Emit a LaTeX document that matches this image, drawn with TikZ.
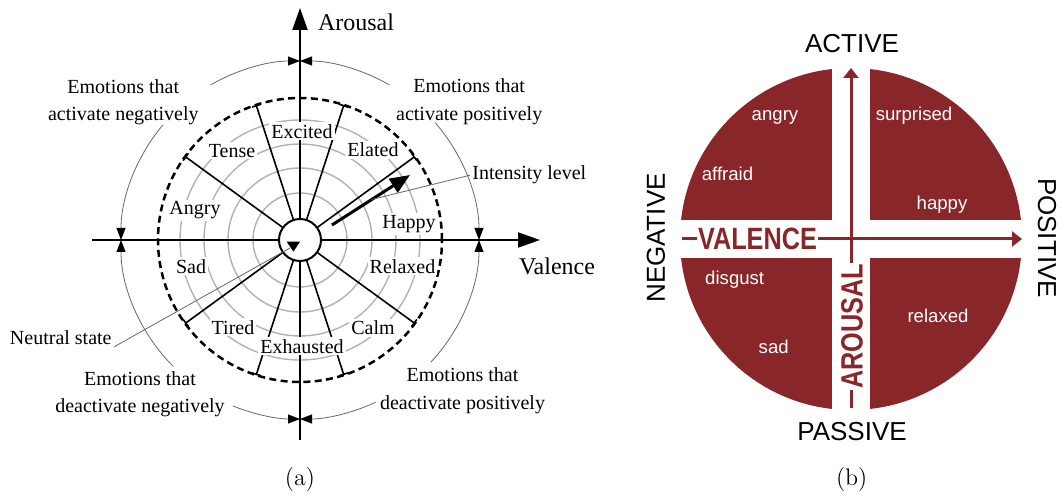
\documentclass[tikz,border=0pt]{standalone}
\usepackage{fontspec}
\newfontfamily\timesfont{Liberation Serif}
\newfontfamily\arialfont{Liberation Sans}
\newfontfamily\narrowfont[FakeStretch=0.82]{Liberation Sans}
\usetikzlibrary{arrows.meta,calc}
\definecolor{wine}{RGB}{136,38,41}
\definecolor{ringgray}{RGB}{178,178,178}

\begin{document}
\begin{tikzpicture}[x=0.5pt,y=0.5pt]
\tikzstyle{axis} = [draw, line width=1pt, -{Triangle[length=11pt,width=7.5pt]}]
\tikzstyle{ring} = [draw=ringgray, line width=0.7pt]
\tikzstyle{spoke} = [draw, line width=0.8pt, -{Bar[width=4.5pt]}]
\tikzstyle{mood} = [font=\timesfont\fontsize{10}{12}\selectfont, fill=white, inner sep=1pt, anchor=base]
\tikzstyle{group} = [font=\timesfont\fontsize{10}{13.7}\selectfont, align=center, inner sep=1pt]
\tikzstyle{curve} = [draw=black!60, line width=0.4pt, -{Triangle[length=6pt,width=4.5pt,color=black,fill=black]}]
\tikzstyle{leader} = [draw=black!60, line width=0.4pt]
\tikzstyle{waxis} = [draw=wine, line width=1.5pt, -{Triangle[length=5pt,width=7.5pt]}]
\tikzstyle{pole} = [font=\arialfont\fontsize{13}{15}\selectfont]
\tikzstyle{feel} = [font=\arialfont\fontsize{9.3}{11}\selectfont, text=white, anchor=base]
\tikzstyle{dim} = [font=\narrowfont\bfseries\fontsize{15.4}{17}\selectfont, text=wine, fill=white, inner xsep=0.6pt, inner ysep=0pt]

\useasboundingbox (0,0) rectangle (1062,498);

% (a) circumplex
\coordinate (O) at (300,258);
\coordinate (vb) at (300,58);
\coordinate (vt) at (300,490);
\coordinate (hl) at (92,258);
\coordinate (hr) at (540,258);

\draw[ring] (O) circle[radius=47];
\draw[ring] (O) circle[radius=72];
\draw[ring] (O) circle[radius=96];
\draw[ring] (O) circle[radius=120];

\draw[axis] (vb) -- (vt);
\draw[axis] (hl) -- (hr);

\node[circle, draw, line width=1pt, fill=white, minimum size=21pt, inner sep=0pt, outer sep=0pt] (ns) at (O) {};

\draw[spoke] (ns.36) -- ++(36:121);
\draw[spoke] (ns.72) -- ++(72:121);
\draw[spoke] (ns.108) -- ++(108:121);
\draw[spoke] (ns.144) -- ++(144:121);
\draw[spoke] (ns.-36) -- ++(-36:121);
\draw[spoke] (ns.-72) -- ++(-72:121);
\draw[spoke] (ns.-108) -- ++(-108:121);
\draw[spoke] (ns.-144) -- ++(-144:121);

\draw[line width=1.25pt, dash pattern=on 3.5pt off 2.2pt] (O) circle[radius=142];

\node[mood] (excited) at (302,359.7) {Excited};
\node[mood] (tense) at (232,340.7) {Tense};
\node[mood] (elated) at (373,341.3) {Elated};
\node[mood] (angry) at (195,283) {Angry};
\node[mood] (happy) at (409,269.7) {Happy};
\node[mood] (sad) at (191,224.7) {Sad};
\node[mood] (relaxed) at (402.5,224.7) {Relaxed};
\node[mood] (tired) at (233,163.7) {Tired};
\node[mood] (calm) at (373,163) {Calm};
\node[mood] (exhausted) at (302,144.7) {Exhausted};

\node[anchor=base, font=\timesfont\fontsize{12}{14}\selectfont] (arousal) at (356,467.3) {Arousal};
\node[anchor=base, font=\timesfont\fontsize{12}{14}\selectfont] (valence) at (557,223) {Valence};

\node[group] (actneg) at (123.3,395.6) {Emotions that\\activate negatively};
\node[group] (actpos) at (469.2,396.3) {Emotions that\\activate positively};
\node[group] (deneg) at (140,104) {Emotions that\\deactivate negatively};
\node[group] (depos) at (462.5,107.3) {Emotions that\\deactivate positively};

\draw[curve] (O) ++(120:179) arc[start angle=120, end angle=90, radius=179];
\draw[curve] (O) ++(140:179) arc[start angle=140, end angle=180, radius=179];
\draw[curve] (O) ++(60:179) arc[start angle=60, end angle=90, radius=179];
\draw[curve] (O) ++(41:179) arc[start angle=41, end angle=0, radius=179];
\draw[curve] (O) ++(225:179) arc[start angle=225, end angle=180, radius=179];
\draw[curve] (O) ++(248:179) arc[start angle=248, end angle=270, radius=179];
\draw[curve] (O) ++(-43:179) arc[start angle=-43, end angle=0, radius=179];
\draw[curve] (O) ++(-65:179) arc[start angle=-65, end angle=-90, radius=179];

% intensity arrow
\coordinate (is) at ($(O)+(32,15)$);
\coordinate (ie) at ($(O)+(110,65)$);
\draw[line width=1.5pt, -{Triangle[length=10pt,width=8pt]}] (is) -- (ie);
\node[anchor=base west, inner sep=1pt, font=\timesfont\fontsize{10}{12}\selectfont] (intens) at (470,318) {Intensity level};
\draw[leader] (intens.west) -- ($(is)!0.51!(ie)$);

% neutral state
\coordinate (nt) at ($(O)+(-10,-8)$);
\fill (O) ++(-13.3,-1.7) -- ++(13.3,0) -- ++(-6.6,-10) -- cycle;
\node[anchor=base east, inner sep=1pt, font=\timesfont\fontsize{10}{12}\selectfont] (neutral) at (114,153.7) {Neutral state};
\draw[leader] (neutral.south east) -- (nt);

\node[anchor=base, font=\large] (capa) at (300,12) {(a)};

% (b) quadrants
\coordinate (P) at (851,259);
\begin{scope}
\clip (P) circle[radius=171];
\fill[wine] ($(P)+(19,19)$) rectangle ++(180,180);
\fill[wine] ($(P)+(-19,19)$) rectangle ++(-180,180);
\fill[wine] ($(P)+(-19,-19)$) rectangle ++(-180,-180);
\fill[wine] ($(P)+(19,-19)$) rectangle ++(180,-180);
\end{scope}

\coordinate (wb) at (851,90);
\coordinate (wt) at (851,430);
\coordinate (wl) at (682,259);
\coordinate (wr) at (1022,259);
\draw[waxis] (wb) -- (wt);
\draw[waxis] (wl) -- (wr);

\node[dim] (val) at (757.5,259) {VALENCE};
\node[dim, rotate=90] (aro) at (852,171.5) {AROUSAL};

\node[pole, anchor=base] (active) at (852,445.3) {ACTIVE};
\node[pole, anchor=base] (passive) at (852,57) {PASSIVE};
\node[pole, rotate=90] (negative) at (656,260) {NEGATIVE};
\node[pole, rotate=-90] (positive) at (1047,260) {POSITIVE};

\node[feel] (fangry) at (775,377.3) {angry};
\node[feel] (fsurprised) at (914,377.3) {surprised};
\node[feel] (faffraid) at (727.5,317) {affraid};
\node[feel] (fhappy) at (942,288.7) {happy};
\node[feel] (fdisgust) at (734.7,213) {disgust};
\node[feel] (fsad) at (773.7,144) {sad};
\node[feel] (frelaxed) at (938,175.3) {relaxed};

\node[anchor=base, font=\large] (capb) at (851.7,12) {(b)};
\end{tikzpicture}
\end{document}
